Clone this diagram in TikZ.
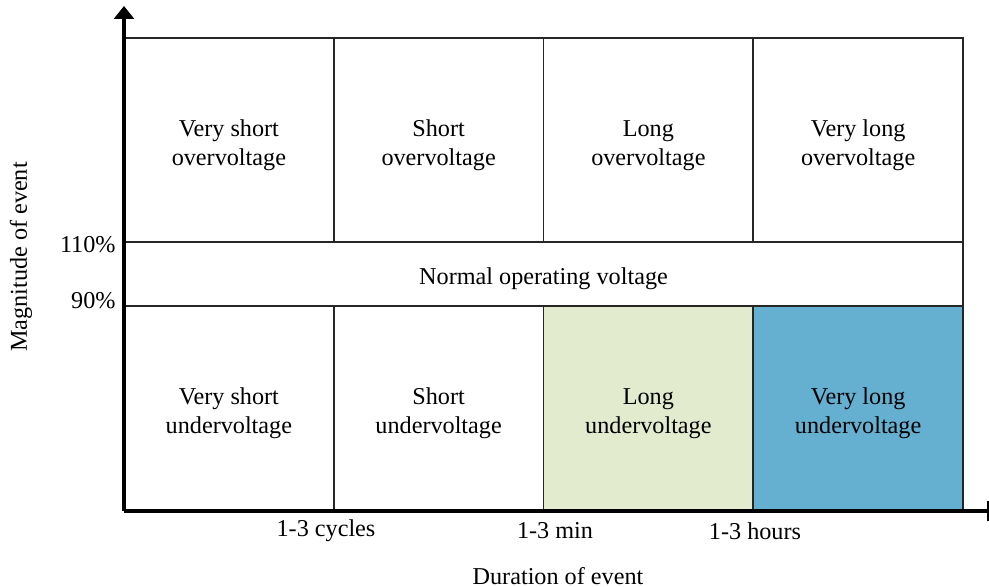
\documentclass[tikz,border=0pt]{standalone}
\usepackage{fontspec}
\setmainfont{Liberation Serif}
\usetikzlibrary{arrows.meta}
\definecolor{longgreen}{HTML}{E2EBCD}
\definecolor{vlongblue}{HTML}{65B0D1}
\tikzset{
  cell/.style={draw=black!85, line width=0.8pt, inner sep=0pt, outer sep=0pt,
    minimum width=104.875pt},
  tallcell/.style={cell, minimum height=102pt},
  label/.style={inner sep=0pt, align=center,
    font=\fontsize{12.1}{14.5}\selectfont},
  celltext/.style={label, yshift=-2.6pt},
  axis/.style={line width=1.8pt},
}
\begin{document}
\begin{tikzpicture}[x=0.5pt,y=-0.5pt]
\useasboundingbox (0,0) rectangle (989,587);

% overvoltage row
\node[tallcell] (ov1) at (228.875,140) {};
\node[tallcell] (ov2) at (438.625,140) {};
\node[tallcell] (ov3) at (648.375,140) {};
\node[tallcell] (ov4) at (858.125,140) {};
\node[celltext] (ov1t) at (ov1.center) {Very short\\overvoltage};
\node[celltext] (ov2t) at (ov2.center) {Short\\overvoltage};
\node[celltext] (ov3t) at (ov3.center) {Long\\overvoltage};
\node[celltext] (ov4t) at (ov4.center) {Very long\\overvoltage};

% normal band
\node[cell, minimum width=419.5pt, minimum height=32pt] (normal) at (543.5,274) {};
\node[celltext] (normalt) at (normal.center) {Normal operating voltage};

% undervoltage row
\node[tallcell] (uv1) at (228.875,408) {};
\node[tallcell] (uv2) at (438.625,408) {};
\node[tallcell, fill=longgreen] (uv3) at (648.375,408) {};
\node[tallcell, fill=vlongblue] (uv4) at (858.125,408) {};
\node[celltext] (uv1t) at (uv1.center) {Very short\\undervoltage};
\node[celltext] (uv2t) at (uv2.center) {Short\\undervoltage};
\node[celltext] (uv3t) at (uv3.center) {Long\\undervoltage};
\node[celltext] (uv4t) at (uv4.center) {Very long\\undervoltage};

% axes
\coordinate (origin) at (124,511);
\coordinate (ytop) at (124,6);
\coordinate (xend) at (988,511);
\draw[axis, -{Triangle[length=6.5pt,width=10pt]}] (origin) -- (ytop);
\draw[axis] (origin) -- (xend);
\coordinate (tickA) at (988,501);
\coordinate (tickB) at (988,521);
\draw[line width=0.6pt] (tickA) -- (tickB);

% magnitude marks
\node[label, anchor=east] (p110) at (116,245) {110\%};
\node[label, anchor=east] (p90) at (116,301) {90\%};

% duration marks
\node[label] (t1) at (326,531) {1-3 cycles};
\node[label] (t2) at (555,531) {1-3 min};
\node[label] (t3) at (755,531) {1-3 hours};

% axis titles
\node[label] (xtitle) at (558,576) {Duration of event};
\node[label, rotate=90] (ytitle) at (21,257) {Magnitude of event};
\end{tikzpicture}
\end{document}
